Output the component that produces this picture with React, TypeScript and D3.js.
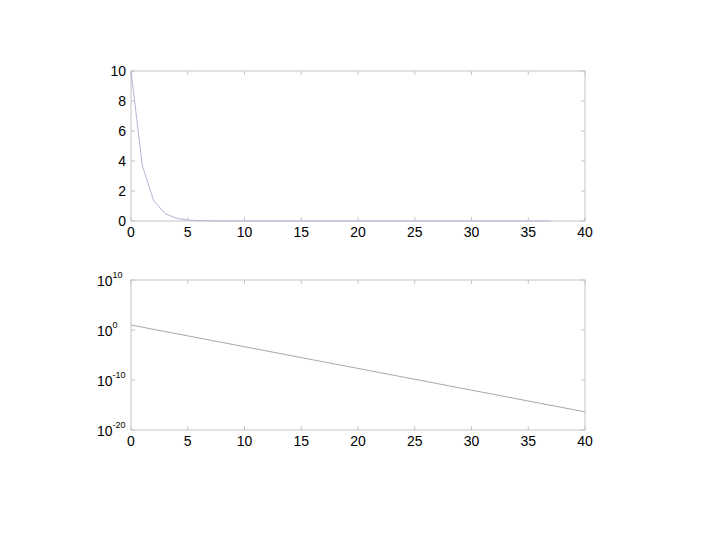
import React, { useEffect, useRef } from 'react';
import * as d3 from 'd3';

// series (same decay, plotted linear on top, log below)
const stepsTop = d3.range(0, 38);
const stepsBottom = d3.range(0, 41);
const errValues = [
  10, 3.68, 1.35, 0.498, 0.183, 0.0674, 0.0248, 9.12e-3, 3.35e-3, 1.23e-3,
  4.54e-4, 1.67e-4, 6.14e-5, 2.26e-5, 8.32e-6, 3.06e-6, 1.13e-6, 4.14e-7, 1.52e-7, 5.6e-8,
  2.06e-8, 7.58e-9, 2.79e-9, 1.03e-9, 3.78e-10, 1.39e-10, 5.11e-11, 1.88e-11, 6.91e-12, 2.54e-12,
  9.36e-13, 3.44e-13, 1.27e-13, 4.66e-14, 1.71e-14, 6.31e-15, 2.32e-15, 8.53e-16, 3.14e-16, 1.15e-16,
  4.25e-17,
];
const xTicks = [0, 5, 10, 15, 20, 25, 30, 35, 40];
const yTicksTop = [0, 2, 4, 6, 8, 10];
const yExpBottom = [-20, -10, 0, 10];

const left = 131;
const right = 585;
const axisColor = '#c4c4c4';
const font = '"Liberation Sans", Arial, sans-serif';

export default function App() {
  const ref = useRef<SVGSVGElement>(null);

  useEffect(() => {
    const svg = d3.select(ref.current);
    svg.selectAll('*').remove();

    const x = d3.scaleLinear().domain([0, 40]).range([left, right]);

    // box with inward ticks on all four sides
    const frame = (top: number, bottom: number, yPos: number[]) => {
      const g = svg.append('g');
      g.append('rect')
        .attr('x', left).attr('y', top)
        .attr('width', right - left).attr('height', bottom - top)
        .attr('fill', 'none').attr('stroke', axisColor);
      xTicks.forEach(t => {
        g.append('line').attr('x1', x(t)).attr('x2', x(t)).attr('y1', bottom).attr('y2', bottom - 4).attr('stroke', axisColor);
        g.append('line').attr('x1', x(t)).attr('x2', x(t)).attr('y1', top).attr('y2', top + 4).attr('stroke', axisColor);
        g.append('text').attr('x', x(t)).attr('y', bottom + 16)
          .attr('text-anchor', 'middle').attr('font-family', font).attr('font-size', 14)
          .text(t);
      });
      yPos.forEach(p => {
        g.append('line').attr('x1', left).attr('x2', left + 4).attr('y1', p).attr('y2', p).attr('stroke', axisColor);
        g.append('line').attr('x1', right).attr('x2', right - 4).attr('y1', p).attr('y2', p).attr('stroke', axisColor);
      });
      return g;
    };

    // top panel, linear
    const yTop = d3.scaleLinear().domain([0, 10]).range([221, 71]);
    const gTop = frame(71, 221, yTicksTop.map(yTop));
    yTicksTop.forEach(t => {
      gTop.append('text').attr('x', 126).attr('y', yTop(t) + 5)
        .attr('text-anchor', 'end').attr('font-family', font).attr('font-size', 14)
        .text(t);
    });
    gTop.append('path')
      .datum(stepsTop)
      .attr('fill', 'none').attr('stroke', '#b4b4d8').attr('stroke-width', 1)
      .attr('d', d3.line<number>().x(i => x(i)).y(i => yTop(errValues[i])));

    // bottom panel, log
    const yBot = d3.scaleLog().domain([1e-20, 1e10]).range([430, 280]);
    const gBot = frame(280, 430, yExpBottom.map(e => yBot(Math.pow(10, e))));
    yExpBottom.forEach(e => {
      const t = gBot.append('text').attr('x', 97).attr('y', yBot(Math.pow(10, e)) + 6)
        .attr('font-family', font).attr('font-size', 14);
      t.append('tspan').text('10');
      t.append('tspan').attr('font-size', 9).attr('dy', -8).text(e);
    });
    gBot.append('path')
      .datum(stepsBottom)
      .attr('fill', 'none').attr('stroke', '#a8a8a8').attr('stroke-width', 1)
      .attr('d', d3.line<number>().x(i => x(i)).y(i => yBot(errValues[i])));
  }, []);

  return (
    <svg ref={ref} width={720} height={540}
      style={{ position: 'absolute', left: 0, top: 0, background: '#fff' }} />
  );
}
